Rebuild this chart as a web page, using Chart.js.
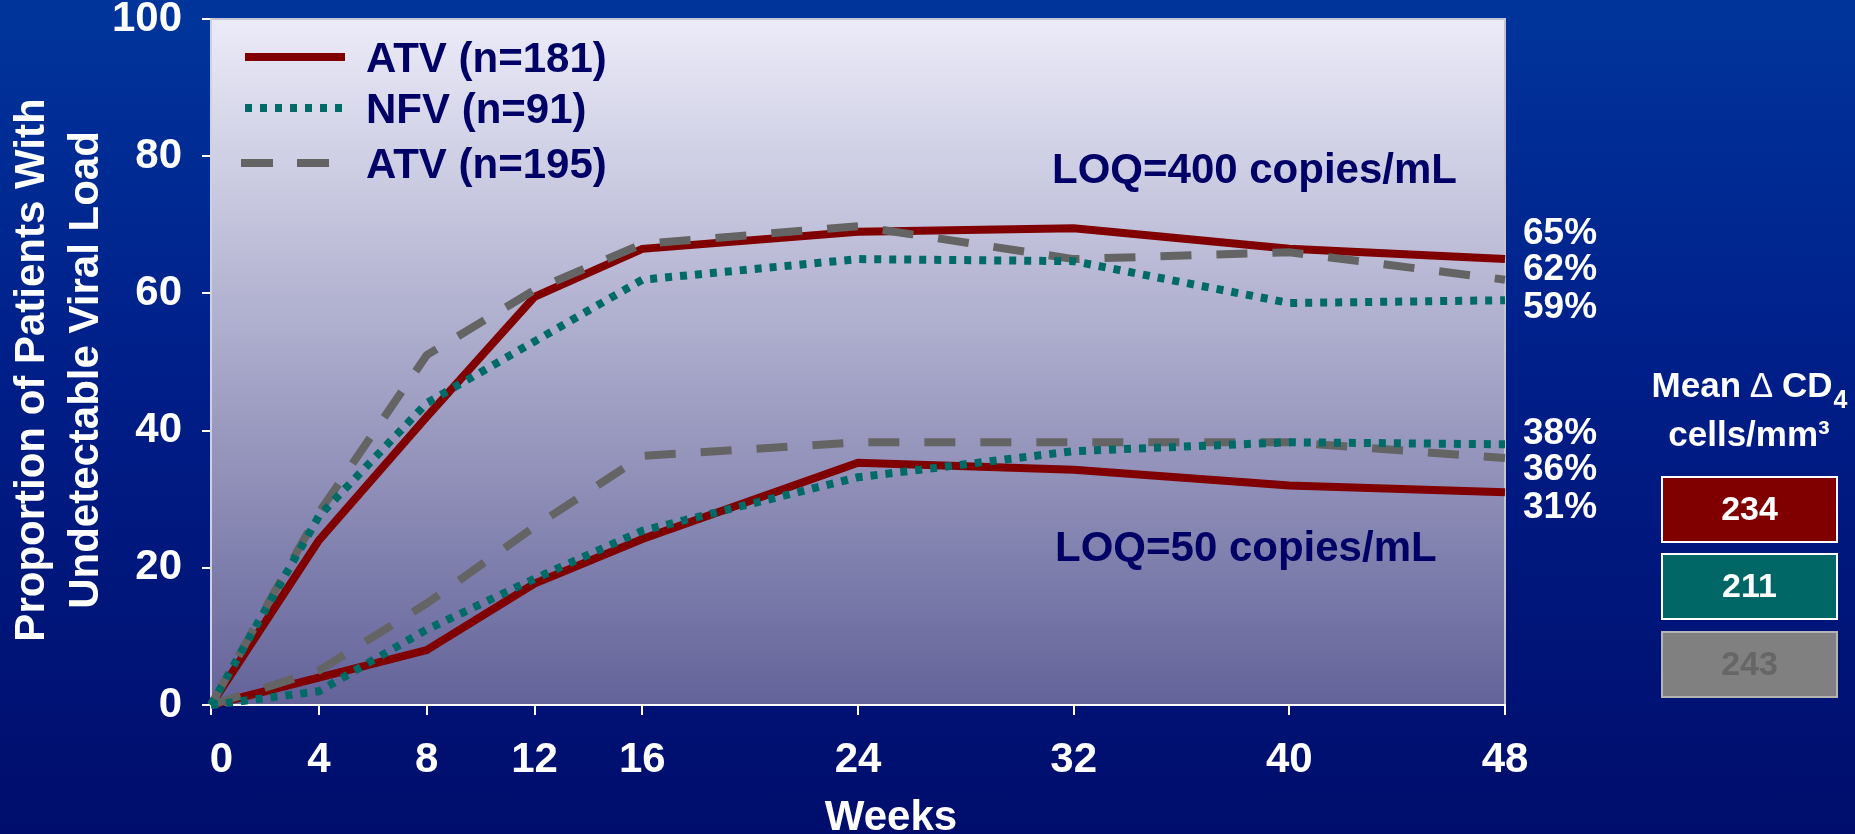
<!DOCTYPE html>
<html>
<head>
<meta charset="utf-8">
<script src="https://cdn.jsdelivr.net/npm/chart.js@4/dist/chart.umd.min.js"></script>
<style>
  html, body { margin: 0; padding: 0; width: 1855px; height: 834px; overflow: hidden; }
  body { background: linear-gradient(to bottom, #00359c 0%, #001e88 45%, #000d6c 100%); }
  canvas { display: block; }
</style>
</head>
<body>
<canvas id="chart" width="1855" height="834"></canvas>
<script>
// Study weeks and axis ticks
const weeks = [0, 4, 8, 12, 16, 24, 32, 40, 48];
const weekTicks = [0, 4, 8, 12, 16, 24, 32, 40, 48];
const yTicks = [0, 20, 40, 60, 80, 100];

// Proportion (%) with undetectable viral load, LOQ = 400 copies/mL
const atv181Loq400 = [0, 24, 42, 59.5, 66.5, 69, 69.5, 66.5, 65];
const nfv91Loq400  = [0, 27.5, 44, 53, 62, 65, 64.7, 58.6, 59];
const atv195Loq400 = [0, 28, 51, 60.5, 67.2, 69.8, 65, 66, 62];

// Proportion (%) with undetectable viral load, LOQ = 50 copies/mL
const atv181Loq50 = [0, 4, 8, 17.7, 24.2, 35.3, 34.3, 32, 31];
const nfv91Loq50  = [0, 2, 11, 18.4, 25.4, 33.2, 37, 38.3, 38];
const atv195Loq50 = [0, 5, 14.8, 26, 36.3, 38.3, 38.3, 38.3, 36];

// Treatment arms and mean change in CD4 count (cells/mm3)
const armNames = ['ATV (n=181)', 'NFV (n=91)', 'ATV (n=195)'];
const cd4Change = [234, 211, 243];

const FONT = '"Liberation Sans", Arial, Helvetica, sans-serif';
const NAVY = '#000066';
const RED = '#800000', TEAL = '#006b66', GRAY = '#646464';

const armStyles = [
  { borderColor: RED,  borderWidth: 8, borderDash: [],       order: 2 },
  { borderColor: TEAL, borderWidth: 8, borderDash: [7, 8],   order: 0 },
  { borderColor: GRAY, borderWidth: 8, borderDash: [31, 25], order: 1 }
];

const toPoints = vals => vals.map((v, i) => ({ x: weeks[i], y: v }));

function makeSet(arm, vals, group) {
  const s = armStyles[arm];
  return {
    label: armNames[arm] + ' ' + group,
    data: toPoints(vals),
    borderColor: s.borderColor,
    borderWidth: s.borderWidth,
    borderDash: s.borderDash,
    borderCapStyle: 'butt',
    borderJoinStyle: 'miter',
    order: s.order,
    pointRadius: 0,
    tension: 0,
    fill: false,
    clip: false
  };
}

const datasets = [
  makeSet(0, atv181Loq400, 'LOQ400'),
  makeSet(1, nfv91Loq400, 'LOQ400'),
  makeSet(2, atv195Loq400, 'LOQ400'),
  makeSet(0, atv181Loq50, 'LOQ50'),
  makeSet(1, nfv91Loq50, 'LOQ50'),
  makeSet(2, atv195Loq50, 'LOQ50')
];

// Plot area shading and frame
const plotBackground = {
  id: 'plotBackground',
  beforeDraw(chart) {
    const { ctx, chartArea: a } = chart;
    const g = ctx.createLinearGradient(0, a.top, 0, a.bottom);
    g.addColorStop(0, '#ebebf8');
    g.addColorStop(1, '#63639a');
    ctx.save();
    ctx.fillStyle = g;
    ctx.fillRect(a.left, a.top, a.right - a.left, a.bottom - a.top);
    ctx.strokeStyle = '#c4c4d4';
    ctx.lineWidth = 2;
    ctx.beginPath();
    ctx.moveTo(a.left, a.top);
    ctx.lineTo(a.right, a.top);
    ctx.lineTo(a.right, a.bottom);
    ctx.stroke();
    ctx.restore();
  }
};

// Legend, annotations, axis titles, end-point labels and CD4 panel
const decorations = {
  id: 'decorations',
  afterDraw(chart) {
    const ctx = chart.ctx;
    ctx.save();

    // legend
    const legendRows = [{ line: 57, base: 72 }, { line: 108, base: 123 }, { line: 163, base: 178 }];
    armNames.forEach((name, i) => {
      const s = armStyles[i];
      const r = legendRows[i];
      ctx.strokeStyle = s.borderColor;
      ctx.lineWidth = 8;
      ctx.lineCap = 'butt';
      ctx.setLineDash(i === 2 ? [32, 24] : s.borderDash);
      ctx.beginPath();
      ctx.moveTo(i === 2 ? 241 : 245, r.line);
      ctx.lineTo(i === 2 ? 329 : 345, r.line);
      ctx.stroke();
      ctx.setLineDash([]);
      ctx.fillStyle = NAVY;
      ctx.font = 'bold 42px ' + FONT;
      ctx.textAlign = 'left';
      ctx.textBaseline = 'alphabetic';
      ctx.fillText(name, 366, r.base);
    });

    // LOQ annotations
    ctx.fillStyle = NAVY;
    ctx.font = 'bold 42px ' + FONT;
    ctx.fillText('LOQ=400 copies/mL', 1052, 183);
    ctx.fillText('LOQ=50 copies/mL', 1055, 561);

    // y-axis title (two lines, rotated)
    ctx.fillStyle = '#ffffff';
    ctx.font = 'bold 42px ' + FONT;
    ctx.textAlign = 'center';
    [['Proportion of Patients With', 44], ['Undetectable Viral Load', 98]].forEach(([t, bx]) => {
      ctx.save();
      ctx.translate(bx, 370);
      ctx.rotate(-Math.PI / 2);
      ctx.fillText(t, 0, 0);
      ctx.restore();
    });

    // x-axis title
    ctx.fillText('Weeks', 891, 830);

    // week-48 percentages
    const last = arr => arr[arr.length - 1];
    const top = [last(atv181Loq400), last(atv195Loq400), last(nfv91Loq400)].sort((a, b) => b - a);
    const bottom = [last(nfv91Loq50), last(atv195Loq50), last(atv181Loq50)].sort((a, b) => b - a);
    ctx.font = 'bold 37px ' + FONT;
    ctx.textAlign = 'left';
    ctx.textBaseline = 'middle';
    const topY = [234, 270, 308];
    const botY = [434, 470, 508];
    top.forEach((v, i) => ctx.fillText(Math.round(v) + '%', 1523, topY[i]));
    bottom.forEach((v, i) => ctx.fillText(Math.round(v) + '%', 1523, botY[i]));

    // CD4 panel heading: "Mean ∆ CD4" with a light delta and subscript 4
    ctx.textBaseline = 'alphabetic';
    const partA = 'Mean ', partD = '\u2206', partB = ' CD';
    ctx.font = 'bold 35px ' + FONT;
    const wA = ctx.measureText(partA).width;
    const wB = ctx.measureText(partB).width;
    ctx.font = '35px ' + FONT;
    const wD = ctx.measureText(partD).width;
    ctx.font = 'bold 25px ' + FONT;
    const wSub = ctx.measureText('4').width;
    let hx = 1749 - (wA + wD + wB + wSub) / 2;
    ctx.textAlign = 'left';
    ctx.font = 'bold 35px ' + FONT;
    ctx.fillText(partA, hx, 397); hx += wA;
    ctx.font = '35px ' + FONT;
    ctx.fillText(partD, hx, 397); hx += wD;
    ctx.font = 'bold 35px ' + FONT;
    ctx.fillText(partB, hx, 397); hx += wB;
    ctx.font = 'bold 25px ' + FONT;
    ctx.fillText('4', hx + 1, 408);
    ctx.font = 'bold 35px ' + FONT;
    ctx.textAlign = 'center';
    ctx.fillText('cells/mm\u00B3', 1749, 446);

    // CD4 boxes
    const boxes = [
      { y: 477, fill: RED,  stroke: '#ffffff', text: '#ffffff' },
      { y: 554, fill: '#006666', stroke: '#ffffff', text: '#ffffff' },
      { y: 632, fill: '#808080', stroke: '#b4b4b4', text: '#666666' }
    ];
    boxes.forEach((b, i) => {
      ctx.fillStyle = b.fill;
      ctx.fillRect(1662, b.y, 175, 65);
      ctx.strokeStyle = b.stroke;
      ctx.lineWidth = 2;
      ctx.strokeRect(1662, b.y, 175, 65);
      ctx.fillStyle = b.text;
      ctx.font = 'bold 34px ' + FONT;
      ctx.textAlign = 'center';
      ctx.textBaseline = 'middle';
      ctx.fillText(String(cd4Change[i]), 1749.5, b.y + 34);
    });

    ctx.restore();
  }
};

const tickFont = { family: FONT, size: 42, weight: 'bold' };

new Chart(document.getElementById('chart'), {
  type: 'line',
  data: { datasets },
  options: {
    responsive: false,
    animation: false,
    devicePixelRatio: 1,
    layout: { padding: { left: 0, top: 19, right: 350, bottom: 0 } },
    plugins: { legend: { display: false }, tooltip: { enabled: false } },
    scales: {
      x: {
        type: 'linear',
        min: 0,
        max: 48,
        afterBuildTicks(s) { s.ticks = weekTicks.map(v => ({ value: v })); },
        afterFit(s) { s.height = 129; s.paddingLeft = 0; s.paddingRight = 0; },
        grid: { drawOnChartArea: false, drawTicks: true, tickLength: 10, color: '#ffffff', lineWidth: 2 },
        border: { display: true, color: '#ffffff', width: 2 },
        ticks: {
          color: '#ffffff', font: tickFont, padding: 20, maxRotation: 0, autoSkip: false,
          // the first label sits just right of the axis corner
          callback: v => (v === 0 ? '\u2002' + v : String(v))
        }
      },
      y: {
        min: 0,
        max: 100,
        afterBuildTicks(s) { s.ticks = yTicks.map(v => ({ value: v })); },
        afterFit(s) { s.width = 211; s.paddingTop = 0; s.paddingBottom = 0; },
        grid: { drawOnChartArea: false, drawTicks: true, tickLength: 9, color: '#ffffff', lineWidth: 2 },
        border: { display: true, color: '#d0d0e0', width: 2 },
        ticks: { color: '#ffffff', font: tickFont, padding: 20 }
      }
    }
  },
  plugins: [plotBackground, decorations]
});
</script>
</body>
</html>
